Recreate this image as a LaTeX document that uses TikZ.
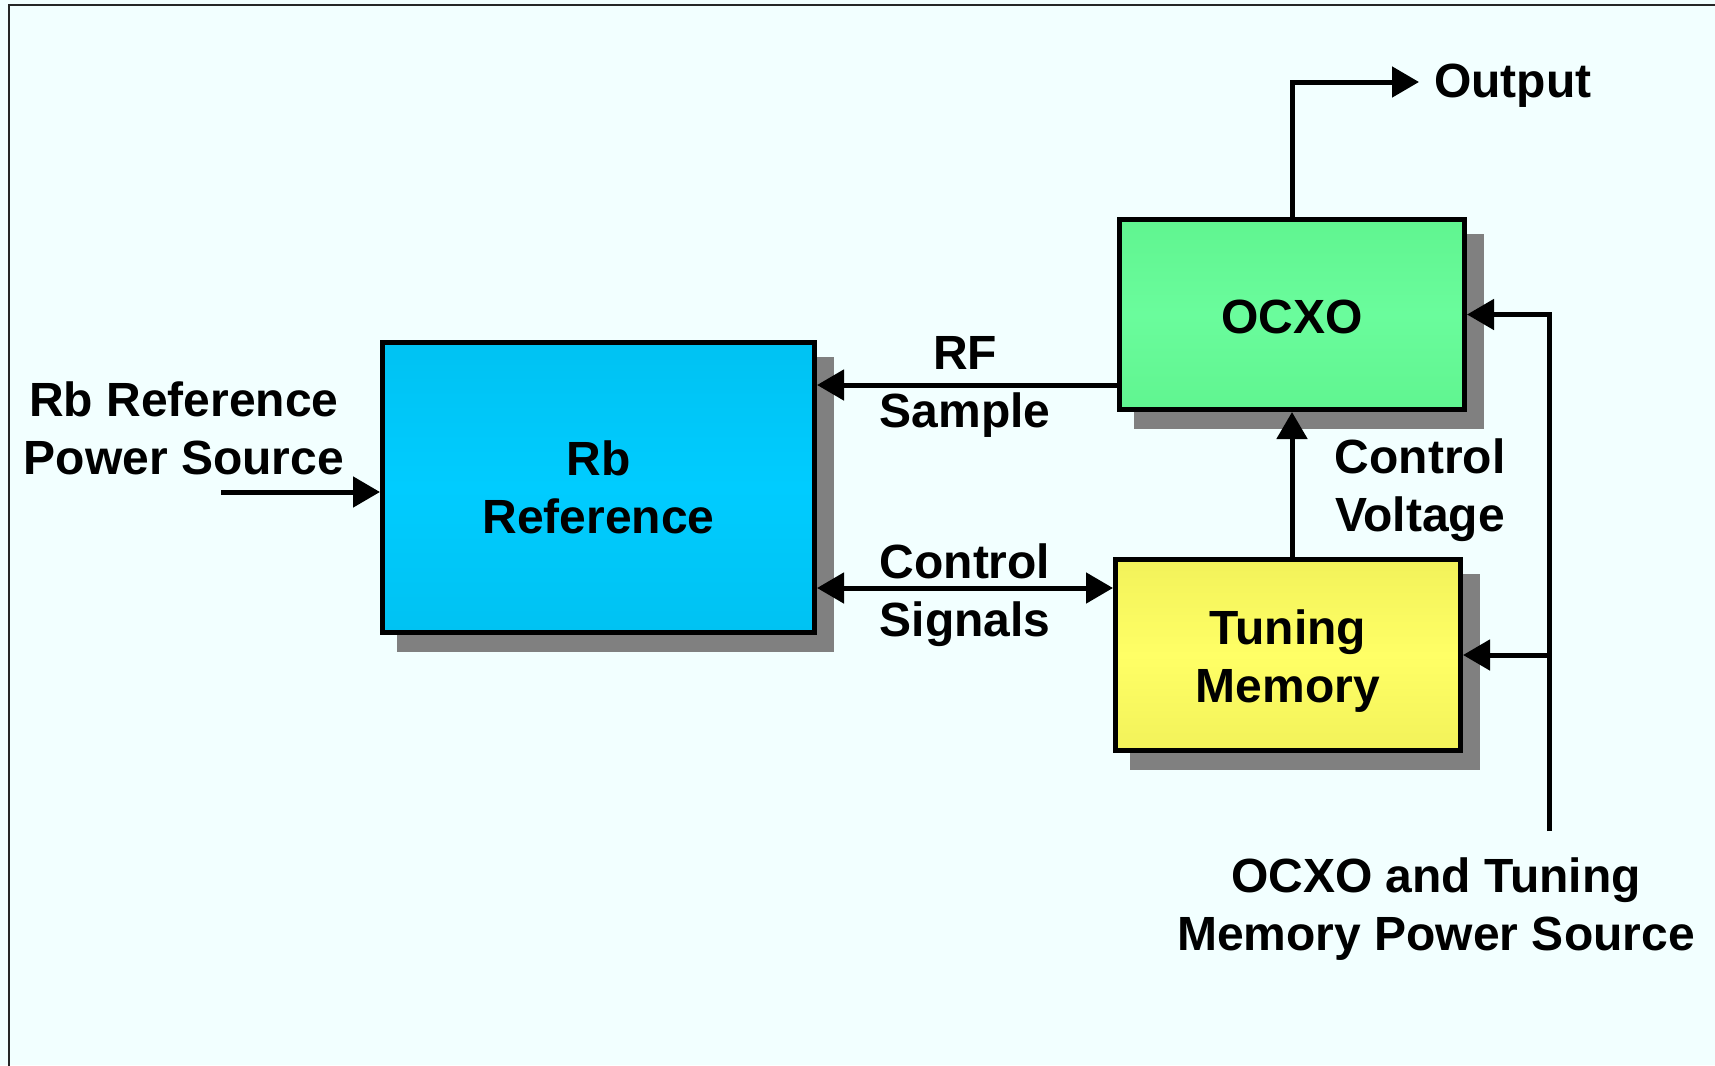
\documentclass[tikz,border=0pt]{standalone}
\usepackage{fontspec}
\setmainfont{Liberation Sans}
\usetikzlibrary{arrows.meta,calc}
\definecolor{bgc}{HTML}{F2FFFF}
\definecolor{shadowc}{HTML}{808080}
\definecolor{cyanA}{HTML}{00C2F2}
\definecolor{cyanB}{HTML}{00CCFF}
\definecolor{greenA}{HTML}{60F590}
\definecolor{greenB}{HTML}{6AFC9C}
\definecolor{yelA}{HTML}{F2F25A}
\definecolor{yelB}{HTML}{FFFF66}
\begin{document}
\begin{tikzpicture}[x=1pt,y=-1pt,
  lbl/.style={font=\bfseries\fontsize{48}{58}\selectfont, align=center, inner sep=0pt},
  blk/.style={draw=black, line width=5pt, rectangle, inner sep=0pt,
    font=\bfseries\fontsize{48}{58}\selectfont, align=center,
    preaction={draw=shadowc, fill=shadowc, line width=5pt,
      transform canvas={shift={(17pt,-17pt)}}}},
  conn/.style={line width=5pt, -{Triangle[length=27pt,width=30pt]}},
  conn2/.style={line width=5pt, {Triangle[length=27pt,width=30pt]}-{Triangle[length=27pt,width=30pt]}}
]
\useasboundingbox (0,0) rectangle (1715,1065);
\fill[bgc] (0,0) rectangle (1715,1065);
\begin{scope}
\clip (0,0) rectangle (1715,1065);
\draw[line width=2pt, color=black!85] (9,5) rectangle (1760,1100);
\end{scope}

% blocks
\node[blk, minimum width=432pt, minimum height=290pt,
  top color=cyanA, bottom color=cyanA, middle color=cyanB] (rb) at (598.5,487.5) {Rb\\Reference};
\node[blk, minimum width=345pt, minimum height=190pt,
  top color=greenA, bottom color=greenA, middle color=greenB] (ocxo) at (1292,314.5) {\rule{0pt}{39pt}OCXO};
\node[blk, minimum width=345pt, minimum height=191pt,
  top color=yelA, bottom color=yelA, middle color=yelB] (tm) at (1288,655) {\rule{0pt}{46pt}Tuning\\Memory};

% labels
\node[lbl] (lrbp) at (184,428) {Rb Reference\\Power Source};
\node[lbl] (lrf) at (965,387) {RF\\Sample};
\node[lbl] (lcs) at (965,595) {Control\\Signals};
\node[lbl] (lcv) at (1420,490) {Control\\Voltage};
\node[lbl] (lpwr) at (1436,909) {OCXO and Tuning\\Memory Power Source};
\node[lbl, anchor=west] (out) at (1434,86) {Output};

% coordinates
\coordinate (yrf) at (0,385);
\coordinate (ycs) at (0,588);
\coordinate (rbin) at (221,492);
\coordinate (pwr) at (1549,831);
\coordinate (yout) at (0,82);

% connectors
\draw[conn] (ocxo.west |- yrf) -- (rb.east |- yrf);
\draw[conn2] (rb.east |- ycs) -- (tm.west |- ycs);
\draw[conn] (rbin) -- (rb.west |- rbin);
\draw[conn] (ocxo.south |- tm.north) -- (ocxo.south);
\draw[conn] (ocxo.north) |- ([xshift=-15pt]out.west |- yout);
\draw[conn] (pwr) |- (ocxo.east);
\draw[conn] (pwr |- tm.east) -- (tm.east);
\end{tikzpicture}
\end{document}
